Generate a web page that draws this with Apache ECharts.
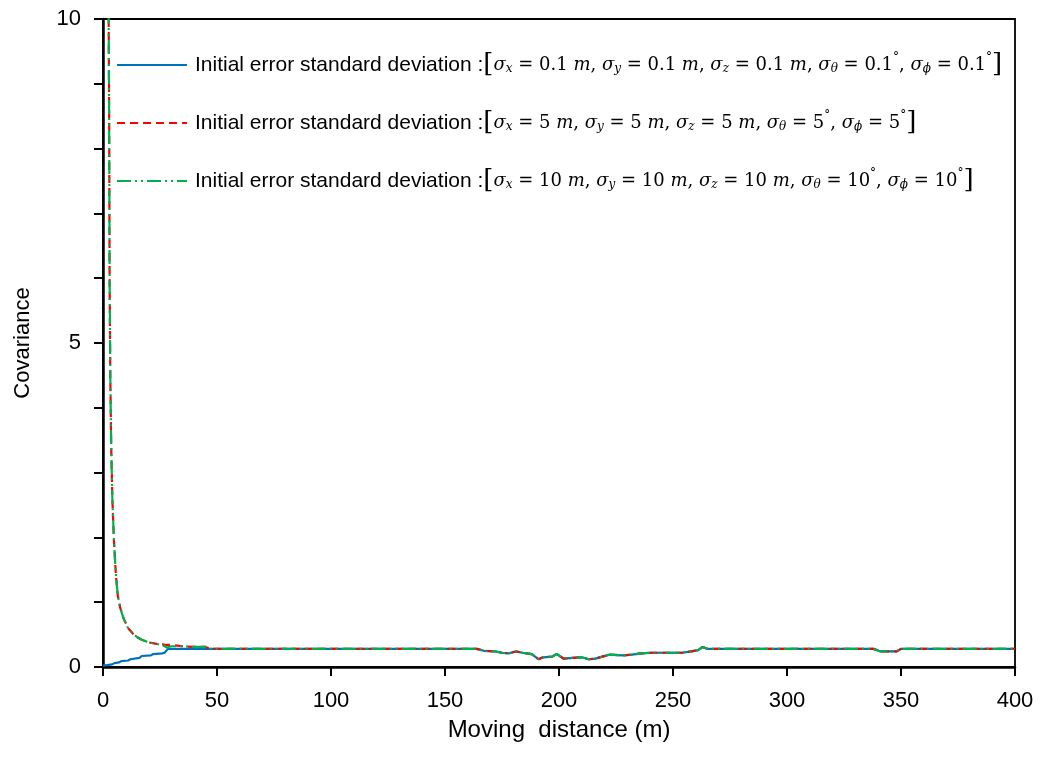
<!DOCTYPE html>
<html>
<head>
<meta charset="utf-8">
<script src="https://cdn.jsdelivr.net/npm/echarts@6/dist/echarts.min.js"></script>
<style>html,body{margin:0;padding:0;background:#fff}#c{width:1043px;height:757px}</style>
</head>
<body>
<div id="c"></div>
<script>
// ---- data ----
const xTicks = [0, 50, 100, 150, 200, 250, 300, 350, 400];
const yLabelValues = [0, 5, 10];

// shared tail (all three series converge)
const tailX = [48, 164, 167, 172, 175, 178, 181, 184, 188, 191, 193, 197, 199, 202, 206, 210, 213, 216, 219, 222, 228, 232, 236, 240, 254, 258, 261, 263, 265, 338, 341, 348, 350, 400];
const tailY = [0.28, 0.28, 0.25, 0.24, 0.22, 0.21, 0.24, 0.22, 0.2, 0.12, 0.15, 0.16, 0.2, 0.13, 0.14, 0.15, 0.12, 0.13, 0.16, 0.19, 0.18, 0.19, 0.21, 0.22, 0.22, 0.24, 0.26, 0.31, 0.28, 0.28, 0.24, 0.24, 0.28, 0.28];

// blue (0.1) head
const blueHeadX = [0, 2, 4, 5, 7, 8, 11, 12, 16, 17, 21, 22, 26, 27, 28.5, 30];
const blueHeadY = [0.02, 0.03, 0.04, 0.06, 0.07, 0.09, 0.1, 0.12, 0.14, 0.17, 0.18, 0.2, 0.21, 0.22, 0.28, 0.28];

// red (5) head
const redHeadX = [2.4, 2.7, 2.9, 3.2, 3.6, 4.1, 4.8, 5.6, 6.5, 7.5, 9, 11, 13, 15, 17, 20, 23, 26, 28, 30, 35, 40, 45, 47];
const redHeadY = [10.6, 8.5, 6.0, 4.5, 3.4, 2.6, 1.95, 1.45, 1.1, 0.92, 0.75, 0.6, 0.52, 0.46, 0.42, 0.38, 0.36, 0.35, 0.34, 0.34, 0.32, 0.31, 0.31, 0.28];

// green (10) head
const greenHeadX = [2.4, 2.7, 2.9, 3.2, 3.6, 4.1, 4.8, 5.6, 6.5, 7.5, 9, 11, 13, 15, 17, 20, 23, 26, 28, 30, 35, 40, 45, 47];
const greenHeadY = [10.6, 8.4, 6.0, 4.5, 3.4, 2.6, 1.95, 1.45, 1.1, 0.92, 0.75, 0.6, 0.52, 0.46, 0.42, 0.38, 0.36, 0.34, 0.3, 0.32, 0.32, 0.31, 0.31, 0.28];

const seriesNames = ['s01', 's5', 's10'];
const posSigma = ['0.1', '5', '10'];
const angSigma = ['0.1', '5', '10'];
const legendPrefix = 'Initial error standard deviation :';

// ---- helpers ----
function zip(xs, ys) { return xs.map((x, i) => [x, ys[i]]); }
function build(hx, hy) { return zip(hx, hy).concat(zip(tailX, tailY)); }

function mathText(p, a) {
  const subs = ['x', 'y', 'z', 'θ', 'ϕ'];
  let s = '{t|' + legendPrefix + '}{b|[}';
  subs.forEach((sb, i) => {
    s += '{g|σ}{s|' + sb + '}{n| = ' + (i < 3 ? p : a) + (i < 3 ? ' ' : '') + '}';
    if (i < 3) s += '{g|m}';
    else s += '{d|°}';
    if (i < 4) s += '{n|, }';
  });
  s += '{b|]}';
  return s;
}

const chart = echarts.init(document.getElementById('c'), null, { renderer: 'canvas' });
const axisFont = { fontFamily: 'Liberation Sans', fontSize: 22, color: '#000' };
const mathFont = 'DejaVu Serif';

chart.setOption({
  animation: false,
  backgroundColor: '#fff',
  grid: { left: 103, right: 28, top: 19, bottom: 90, show: true, borderColor: '#000', borderWidth: 1.8, backgroundColor: 'transparent' },
  xAxis: {
    type: 'value', min: 0, max: 400, interval: 50,
    name: 'Moving  distance (m)', nameLocation: 'middle', nameGap: 51, nameMoveOverlap: false,
    nameTextStyle: { fontFamily: 'Liberation Sans', fontSize: 24, color: '#000' },
    axisLine: { lineStyle: { color: '#000', width: 2.5 } },
    axisTick: { inside: false, length: 9, lineStyle: { color: '#000', width: 2 } },
    axisLabel: Object.assign({ margin: 23 }, axisFont),
    splitLine: { show: false }
  },
  yAxis: {
    type: 'value', min: 0, max: 10, interval: 1,
    name: 'Covariance', nameLocation: 'middle', nameGap: 69, nameMoveOverlap: false,
    nameTextStyle: axisFont,
    axisLine: { show: true, lineStyle: { color: '#000', width: 2.5 } },
    axisTick: { show: true, inside: false, length: 9, lineStyle: { color: '#000', width: 2 } },
    axisLabel: Object.assign({ margin: 22, formatter: v => yLabelValues.indexOf(v) >= 0 ? String(v) : '' }, axisFont),
    splitLine: { show: false }
  },
  legend: {
    orient: 'vertical', left: 111, top: 46, itemGap: 30,
    itemWidth: 70, itemHeight: 14,
    data: seriesNames,
    itemStyle: { opacity: 0 },
    lineStyle: { width: 2 },
    formatter: name => mathText(posSigma[seriesNames.indexOf(name)], angSigma[seriesNames.indexOf(name)]),
    textStyle: {
      rich: {
        t: { fontFamily: 'Liberation Sans', fontSize: 21, color: '#000', lineHeight: 28, padding: [0, 0, 0, 3] },
        b: { fontFamily: mathFont, fontSize: 26, color: '#000', lineHeight: 28 },
        g: { fontFamily: mathFont, fontStyle: 'italic', fontSize: 18, color: '#000', lineHeight: 28 },
        n: { fontFamily: mathFont, fontSize: 18, color: '#000', lineHeight: 28 },
        s: { fontFamily: mathFont, fontStyle: 'italic', fontSize: 12, color: '#000', lineHeight: 12, verticalAlign: 'bottom', padding: [0, 0, 4, 0] },
        d: { fontFamily: mathFont, fontSize: 12, color: '#000', lineHeight: 12, verticalAlign: 'top', padding: [1, 0, 0, 0] }
      }
    }
  },
  series: [
    { name: 's01', type: 'line', data: build(blueHeadX, blueHeadY), showSymbol: false, symbol: 'none', clip: true,
      lineStyle: { color: '#0070C0', width: 2.2, type: 'solid' }, itemStyle: { color: '#0070C0' }, z: 2 },
    { name: 's5', type: 'line', data: build(redHeadX, redHeadY), showSymbol: false, symbol: 'none', clip: true,
      lineStyle: { color: '#FF0000', width: 2.2, type: [8, 5] }, itemStyle: { color: '#FF0000' }, z: 3 },
    { name: 's10', type: 'line', data: build(greenHeadX, greenHeadY), showSymbol: false, symbol: 'none', clip: true,
      lineStyle: { color: '#00B050', width: 2.2, type: [14, 4, 2, 4, 2, 4] }, itemStyle: { color: '#00B050' }, z: 4 }
  ]
});
</script>
</body>
</html>
